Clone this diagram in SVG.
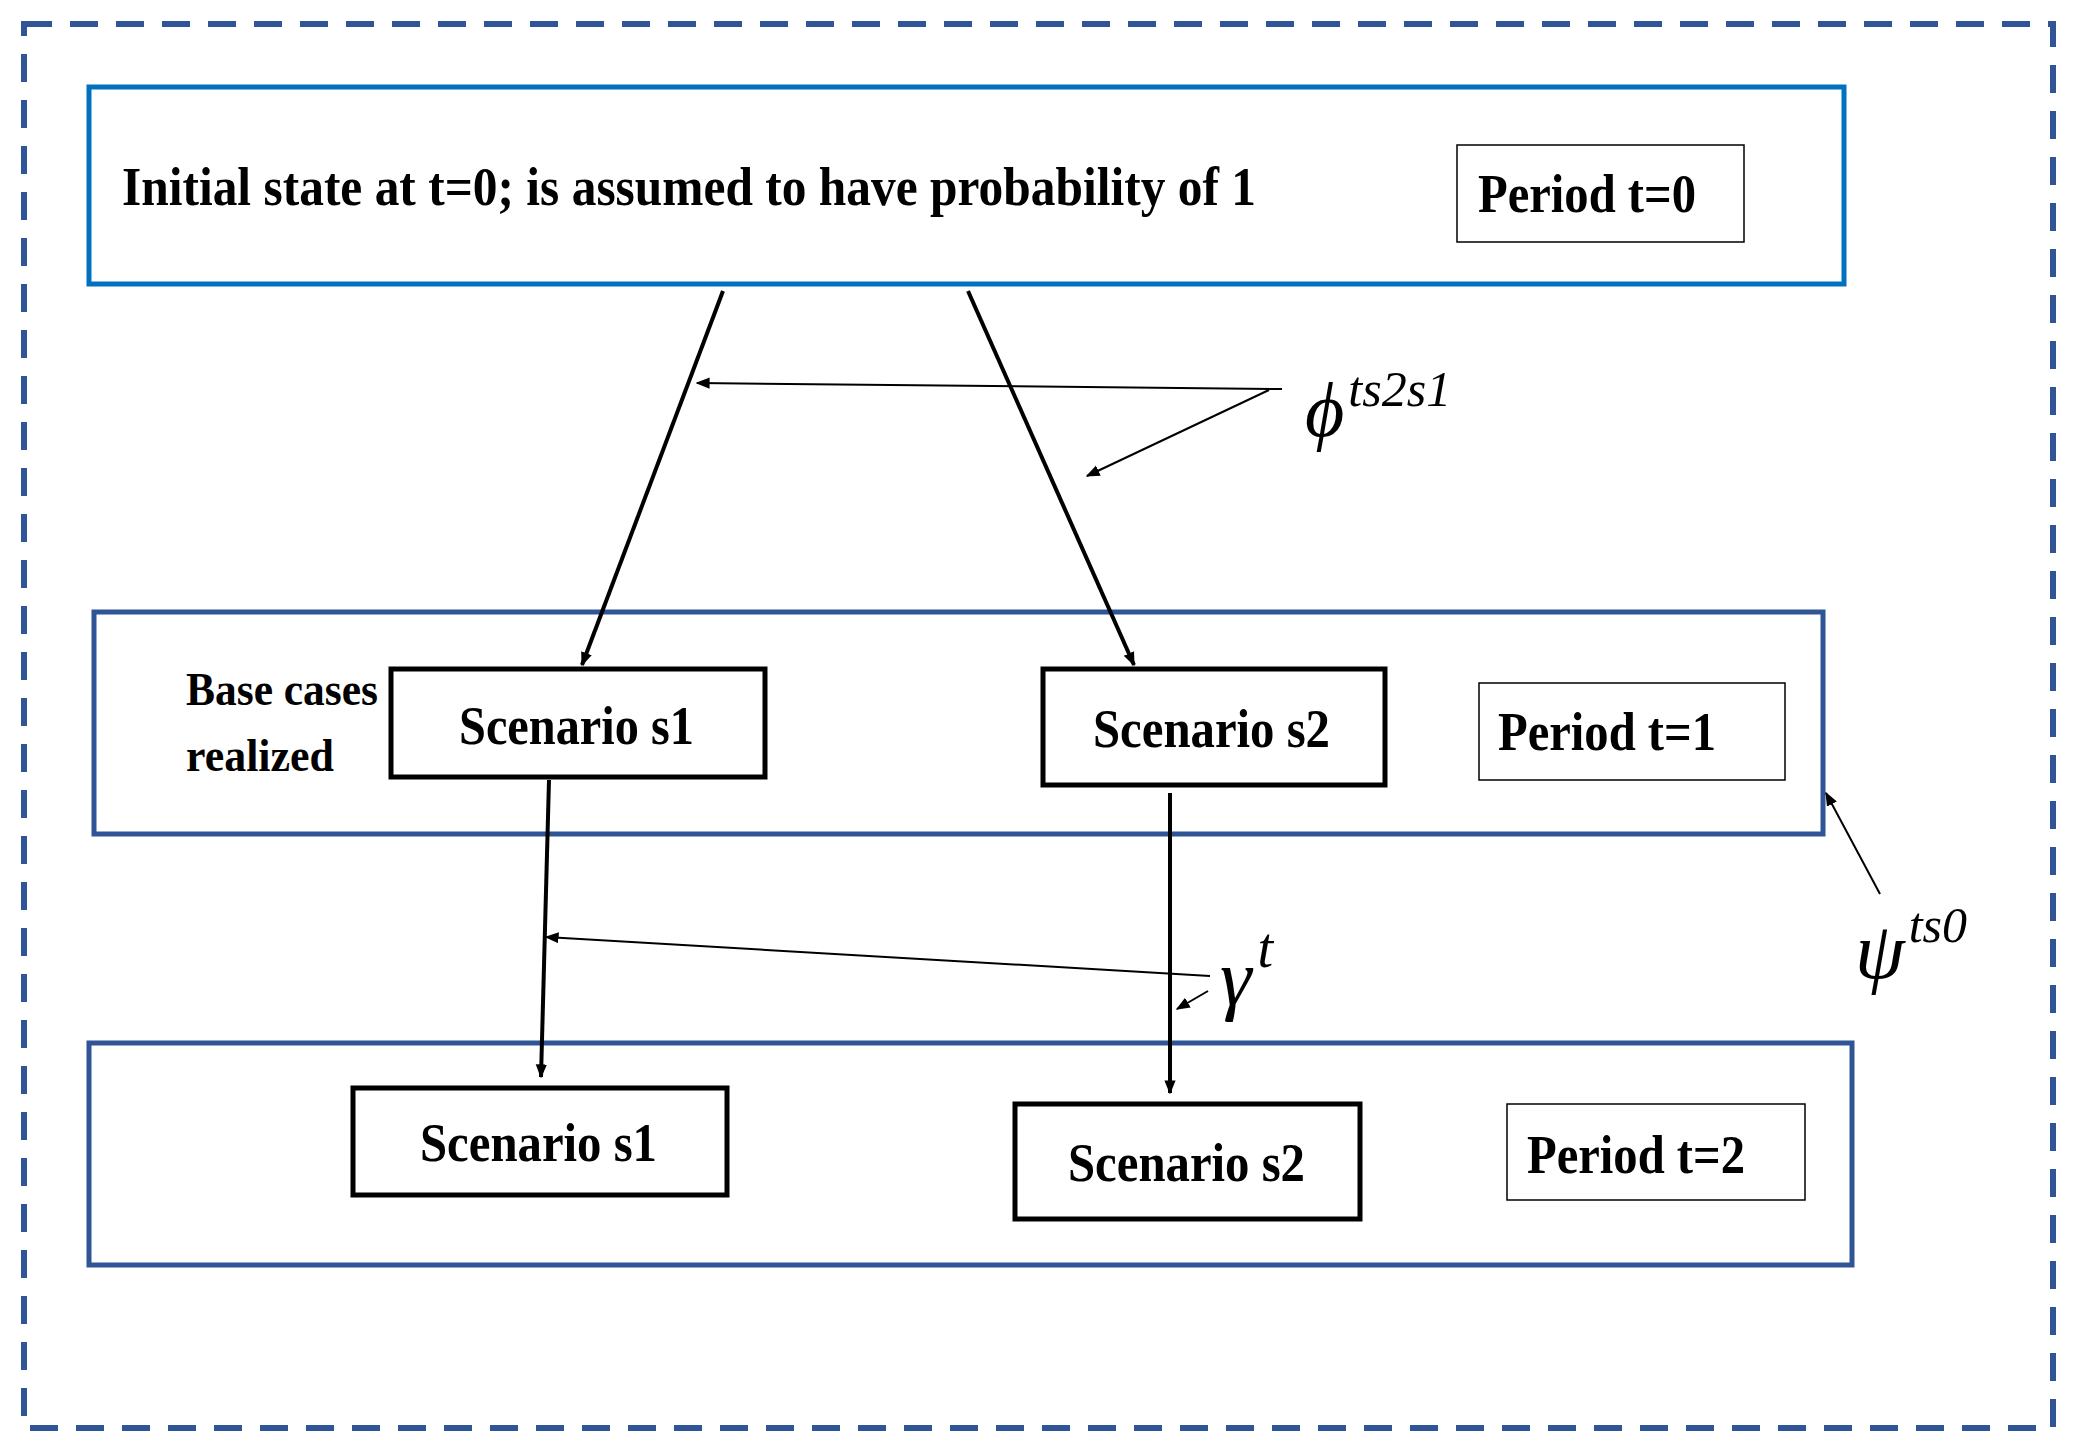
<svg xmlns="http://www.w3.org/2000/svg" width="2073" height="1455" viewBox="0 0 2073 1455">
<defs>
<marker id="ah" viewBox="0 0 10 10" refX="9" refY="5" markerWidth="6" markerHeight="6" orient="auto" markerUnits="userSpaceOnUse"><path d="M0,0 L10,5 L0,10 z" fill="#000"/></marker>
<marker id="ahb" viewBox="0 0 10 10" refX="9" refY="5" markerWidth="14" markerHeight="14" orient="auto" markerUnits="userSpaceOnUse"><path d="M0,1 L10,5 L0,9 z" fill="#000"/></marker>
<style>
.t{font-family:"Liberation Serif",serif;font-weight:bold;fill:#000}
.m{font-family:"Liberation Serif",serif;font-style:italic;fill:#000}
.blk{fill:#fff;stroke:#000;stroke-width:5}
.thin{fill:#fff;stroke:#000;stroke-width:1.5}
.c{stroke:#000;fill:none}
</style>
</defs>
<rect width="2073" height="1455" fill="#fff"/>
<rect id="outer" x="24" y="24" width="2029" height="1404" fill="none" stroke="#2F5597" stroke-width="6" stroke-dasharray="28,18"/>
<g id="period0">
<rect x="89" y="87" width="1755" height="197" fill="#fff" stroke="#0070C0" stroke-width="5"/>
<text class="t" x="122" y="205" font-size="54" textLength="1134" lengthAdjust="spacingAndGlyphs">Initial state  at t=0; is assumed to have probability of 1</text>
<rect class="thin" x="1457" y="145" width="287" height="97"/>
<text class="t" x="1478" y="212" font-size="54" textLength="218" lengthAdjust="spacingAndGlyphs">Period t=0</text>
</g>
<g id="period1">
<rect x="94" y="612" width="1729" height="222" fill="#fff" stroke="#2F5597" stroke-width="5"/>
<text class="t" x="186" y="705" font-size="46" textLength="192" lengthAdjust="spacingAndGlyphs">Base cases</text>
<text class="t" x="186" y="771" font-size="46" textLength="148" lengthAdjust="spacingAndGlyphs">realized</text>
<rect class="thin" x="1479" y="683" width="306" height="97"/>
<text class="t" x="1498" y="750" font-size="54" textLength="218" lengthAdjust="spacingAndGlyphs">Period t=1</text>
</g>
<g id="s1a"><rect class="blk" x="391" y="669" width="374" height="108"/>
<text class="t" x="459" y="744" font-size="54" textLength="235" lengthAdjust="spacingAndGlyphs">Scenario s1</text></g>
<g id="s2a"><rect class="blk" x="1043" y="669" width="342" height="116"/>
<text class="t" x="1093" y="747" font-size="54" textLength="237" lengthAdjust="spacingAndGlyphs">Scenario s2</text></g>
<g id="period2">
<rect x="89" y="1043" width="1763" height="222" fill="#fff" stroke="#2F5597" stroke-width="5"/>
<rect class="thin" x="1507" y="1104" width="298" height="96"/>
<text class="t" x="1527" y="1173" font-size="54" textLength="218" lengthAdjust="spacingAndGlyphs">Period t=2</text>
</g>
<g id="s1b"><rect class="blk" x="353" y="1088" width="374" height="107"/>
<text class="t" x="420" y="1161" font-size="54" textLength="237" lengthAdjust="spacingAndGlyphs">Scenario s1</text></g>
<g id="s2b"><rect class="blk" x="1015" y="1104" width="345" height="115"/>
<text class="t" x="1068" y="1181" font-size="54" textLength="237" lengthAdjust="spacingAndGlyphs">Scenario s2</text></g>
<g id="connectors">
<line class="c" stroke-width="4" x1="723" y1="291" x2="582" y2="665" marker-end="url(#ahb)"/>
<line class="c" stroke-width="4" x1="968" y1="291" x2="1134" y2="665" marker-end="url(#ahb)"/>
<line class="c" stroke-width="4" x1="549" y1="780" x2="541" y2="1077" marker-end="url(#ahb)"/>
<line class="c" stroke-width="4" x1="1170" y1="793" x2="1170" y2="1093" marker-end="url(#ahb)"/>
<line class="c" stroke-width="2" x1="1282" y1="389" x2="697" y2="383" marker-end="url(#ahb)"/>
<line class="c" stroke-width="2" x1="1269" y1="390" x2="1087" y2="476" marker-end="url(#ahb)"/>
<line class="c" stroke-width="2" x1="1210" y1="976" x2="546" y2="937" marker-end="url(#ahb)"/>
<line class="c" stroke-width="2" x1="1208" y1="991" x2="1177" y2="1009" marker-end="url(#ahb)"/>
<line class="c" stroke-width="2" x1="1880" y1="894" x2="1826" y2="793" marker-end="url(#ahb)"/>
</g>
<g id="labels">
<text class="m" x="1305" y="436" font-size="76">ϕ<tspan font-size="50" dx="4" dy="-30">ts2s1</tspan></text>
<text class="m" x="1220" y="1005" font-size="80">γ<tspan font-size="56" dx="6" dy="-38">t</tspan></text>
<text class="m" x="1855" y="978" font-size="80">ψ<tspan font-size="50" dx="4" dy="-36">ts0</tspan></text>
</g>
</svg>
